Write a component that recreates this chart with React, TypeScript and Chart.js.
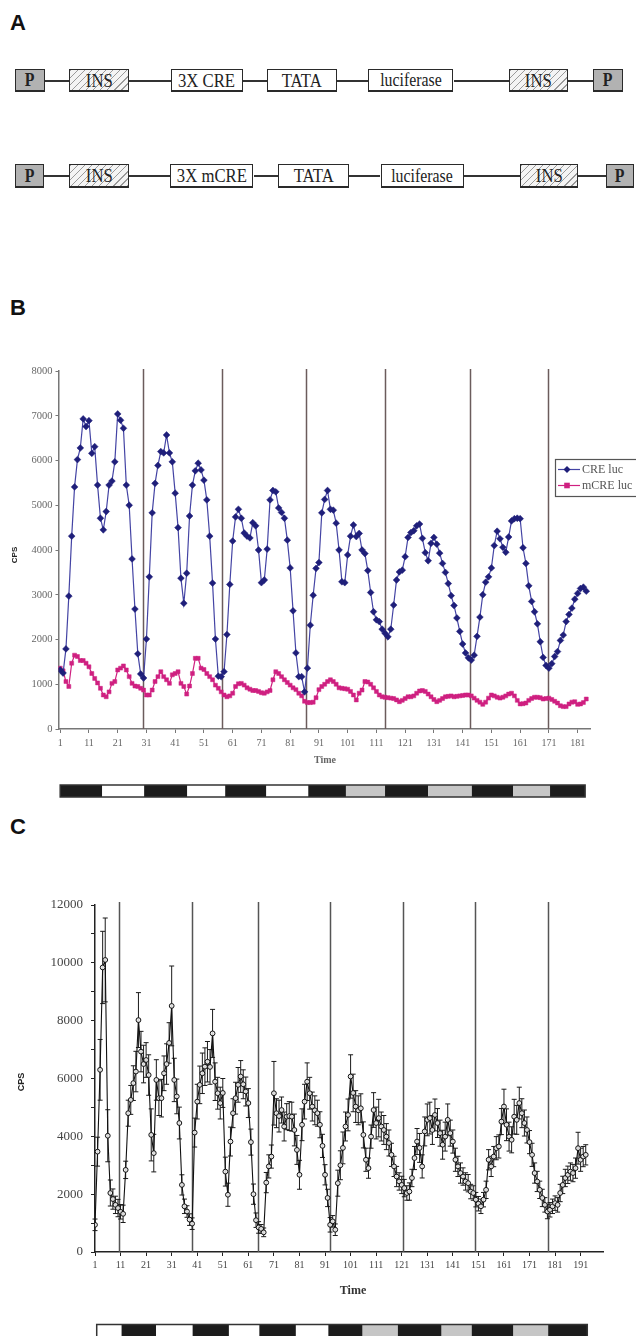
import React, { useEffect, useRef } from 'react';
import { Chart, registerables } from 'chart.js';
Chart.register(...registerables);

// ---------- Panel B data (time index 1..184) ----------
const creLuc = [
  1320, 1250, 1790, 2970, 4310, 5410, 6020, 6280, 6930, 6760,
  6890, 6160, 6310, 5450, 4710, 4450, 4860, 5450, 5540, 5970,
  7040, 6900, 6720, 5450, 5000, 3800, 2680, 1680, 1230, 1140,
  2010, 3400, 4830, 5490, 5890, 6200, 6170, 6570, 6170, 5970,
  5270, 4500, 3370, 2810, 3480, 4760, 5450, 5770, 5940, 5790,
  5560, 5120, 4310, 3260, 2010, 1180, 1170, 1280, 2110, 3230,
  4200, 4740, 4910, 4710, 4380, 4310, 4270, 4610, 4540, 4000,
  3270, 3330, 4020, 5120, 5330, 5300, 4940, 4840, 4710, 4220,
  3600, 2640, 1700, 1170, 1170, 830, 1360, 2320, 2990, 3590,
  3720, 4830, 5130, 5330, 4910, 4890, 4600, 4000, 3290, 3270,
  3890, 4310, 4560, 4300, 4370, 4000, 3920, 3540, 3050, 2620,
  2440, 2400, 2230, 2140, 2060, 2230, 2770, 3330, 3510, 3550,
  3850, 4280, 4390, 4430, 4540, 4580, 4260, 3940, 3760, 4150,
  4280, 4130, 3930, 3700, 3500, 3250, 2980, 2760, 2480, 2180,
  1900, 1700, 1590, 1540, 1650, 2070, 2500, 3000, 3280, 3400,
  3600, 4100, 4420, 4250, 4060, 3950, 4290, 4650, 4700, 4710,
  4700, 4050, 3700, 3200, 2850, 2620, 2350, 1950, 1600, 1420,
  1360, 1460, 1620, 1730, 1980, 2100, 2400, 2560, 2700, 2900,
  3030, 3140, 3170, 3080,
];
const mcreLuc = [
  1360, 1300, 1060, 950, 1470, 1650, 1620, 1530, 1530, 1470,
  1390, 1240, 1130, 1030, 910, 760, 720, 830, 1020, 1060,
  1320, 1360, 1410, 1320, 1170, 1020, 960, 950, 910, 870,
  760, 760, 870, 1060, 1170, 1280, 1170, 1100, 1020, 1210,
  1240, 1280, 1020, 950, 780, 960, 1240, 1580, 1580, 1360,
  1330, 1240, 1170, 1100, 980, 910, 830, 760, 720, 740,
  800, 950, 1010, 1020, 980, 920, 890, 860, 860, 840,
  810, 800, 830, 860, 1100, 1280, 1240, 1170, 1100, 1040,
  980, 920, 880, 800, 740, 620, 590, 590, 600, 700,
  880, 950, 1000, 1060, 1100, 1060, 1000, 920, 910, 900,
  890, 840, 760, 650, 800, 870, 1060, 1050, 1000, 920,
  840, 760, 720, 710, 700, 690, 680, 650, 610, 640,
  680, 720, 720, 740, 800, 850, 860, 840, 780, 720,
  660, 610, 640, 680, 720, 730, 740, 720, 730, 740,
  750, 760, 760, 740, 690, 640, 600, 550, 600, 690,
  760, 740, 710, 690, 710, 740, 780, 800, 740, 640,
  560, 565, 580, 640, 680, 710, 710, 700, 670, 680,
  690, 660, 620, 580, 520, 500, 500, 560, 600, 610,
  550, 560, 590, 670,
];
const xTicksB = [1, 11, 21, 31, 41, 51, 61, 71, 81, 91, 101, 111, 121, 131, 141, 151, 161, 171, 181];
const yTicksB = [0, 1000, 2000, 3000, 4000, 5000, 6000, 7000, 8000];
const dividersB = [29.9, 57.2, 86.6, 114, 143.5, 170.8];
const scheduleBoundsB = [1, 15.6, 30.2, 45.2, 58.4, 72.7, 87.3, 100.4, 114, 129, 144.2, 158.6, 171.4, 183.6];
const schedulePhasesB = ['D', 'L', 'D', 'L', 'D', 'L', 'D', 'G', 'D', 'G', 'D', 'G', 'D'];
const seriesNamesB = ['CRE luc', 'mCRE luc'];

// ---------- Panel C data (time index 1..193) ----------
const cpsMeanC = [
  940, 3470, 6300, 9840, 10100, 4020, 2040, 1830, 1630, 1520,
  1390, 1320, 2840, 4800, 5260, 5840, 6240, 8020, 6930, 6500,
  6640, 6120, 4050, 3420, 5950, 5320, 5320, 6180, 6500, 7230,
  8510, 5950, 5380, 4460, 2320, 1580, 1400, 1120, 980, 4130,
  5200, 5780, 6180, 6410, 6580, 6400, 7560, 5890, 5490, 5150,
  5500, 2780, 1980, 3820, 4800, 5320, 5780, 6070, 5800, 5550,
  5150, 3800, 2000, 1100, 850, 800, 680, 2400, 2960, 3300,
  5490, 4800, 4700, 4910, 4340, 4680, 4700, 4680, 4220, 3530,
  2670, 4400, 5200, 5890, 5490, 5030, 4900, 4800, 4400, 3670,
  2670, 1870, 940, 1060, 770, 2380, 3000, 3600, 4340, 4740,
  6070, 5500, 5030, 4900, 4970, 4050, 3190, 2900, 3990, 4910,
  4460, 4630, 4340, 4220, 3990, 3770, 3360, 2960, 2610, 2440,
  2320, 2210, 2040, 2090, 2560, 3250, 3820, 3600, 2960, 4170,
  4570, 4630, 4220, 4740, 4460, 4110, 3710, 3990, 4570, 4110,
  3820, 3190, 2960, 2730, 2610, 2440, 2380, 2090, 2040, 1810,
  1670, 1580, 1810, 2150, 3190, 2960, 3300, 3590, 3650, 4510,
  5030, 4400, 3990, 3880, 4680, 4570, 5150, 4800, 4460, 4220,
  3800, 3360, 2730, 2440, 2150, 1870, 1630, 1400, 1460, 1580,
  1690, 1630, 2040, 2320, 2560, 2670, 2780, 2730, 2900, 3590,
  3190, 3300, 3360,
];
const cpsErrC = [
  200, 500, 1050, 1250, 1450, 900, 450, 350, 300, 300,
  250, 300, 300, 450, 500, 600, 700, 950, 700, 650,
  600, 700, 900, 650, 700, 600, 650, 600, 700, 700,
  1380, 750, 600, 550, 350, 250, 200, 200, 200, 500,
  600, 650, 700, 650, 700, 600, 830, 650, 550, 550,
  500, 500, 400, 500, 500, 550, 600, 550, 500, 500,
  500, 450, 350, 250, 200, 150, 150, 350, 400, 400,
  1100, 500, 550, 450, 500, 450, 500, 500, 550, 500,
  500, 550, 600, 650, 550, 500, 500, 450, 450, 400,
  350, 300, 250, 200, 200, 450, 500, 550, 500, 550,
  750, 650, 550, 500, 500, 450, 400, 350, 400, 600,
  550, 650, 500, 500, 450, 450, 400, 350, 350, 300,
  300, 300, 250, 300, 300, 400, 450, 500, 400, 500,
  550, 550, 500, 550, 500, 450, 500, 500, 550, 450,
  400, 400, 350, 350, 300, 300, 300, 250, 250, 250,
  250, 250, 250, 300, 350, 350, 350, 400, 400, 450,
  600, 550, 500, 450, 600, 500, 550, 500, 450, 450,
  400, 400, 350, 350, 300, 300, 250, 250, 250, 250,
  250, 250, 300, 300, 300, 300, 300, 300, 350, 550,
  400, 350, 350,
];
const xTicksC = [1, 11, 21, 31, 41, 51, 61, 71, 81, 91, 101, 111, 121, 131, 141, 151, 161, 171, 181, 191];
const yTicksC = [0, 1000, 2000, 3000, 4000, 5000, 6000, 7000, 8000, 9000, 10000, 11000, 12000];
const yLabelStepC = 2000;
const dividersC = [10.4, 38.8, 64.9, 92.9, 121.4, 149.7, 178.1];
const scheduleBoundsC = [1.67, 11.4, 24.9, 39.2, 53.4, 65.3, 79.6, 92.3, 105.7, 119.5, 136.6, 148.4, 164.7, 178.3, 193.6];
const schedulePhasesC = ['L', 'D', 'L', 'D', 'L', 'D', 'L', 'D', 'G', 'D', 'G', 'D', 'G', 'D'];

// ---------- Panel A construct labels ----------
const constructTop = ['P', 'INS', '3X CRE', 'TATA', 'luciferase', 'INS', 'P'];
const constructBottom = ['P', 'INS', '3X mCRE', 'TATA', 'luciferase', 'INS', 'P'];

const BLUE_MARK = '#1f1f7a';
const BLUE_LINE = '#4444a4';
const PINK = '#cf2080';
const phaseColor: Record<string, string> = { D: '#1c1c1c', L: '#ffffff', G: '#c6c6c6' };
const SERIF = '"Liberation Serif", "DejaVu Serif", serif';
const SANS = '"Liberation Sans", Arial, sans-serif';

function drawSchedule(chart: any, bounds: number[], phases: string[], y0: number, h: number) {
  const { ctx, scales } = chart;
  const x = scales.x;
  ctx.save();
  for (let i = 0; i < phases.length; i++) {
    const a = x.getPixelForValue(bounds[i]);
    const b = x.getPixelForValue(bounds[i + 1]);
    ctx.fillStyle = phaseColor[phases[i]];
    ctx.fillRect(a, y0, b - a, h);
  }
  const first = x.getPixelForValue(bounds[0]);
  const last = x.getPixelForValue(bounds[bounds.length - 1]);
  ctx.strokeStyle = '#333';
  ctx.lineWidth = 1.5;
  ctx.strokeRect(first, y0, last - first, h);
  ctx.restore();
}

function drawDividers(chart: any, values: number[], color: string, topExtra: number) {
  const { ctx, chartArea, scales } = chart;
  ctx.save();
  ctx.strokeStyle = color;
  ctx.lineWidth = 1.5;
  values.forEach((d) => {
    const px = Math.round(scales.x.getPixelForValue(d)) + 0.5;
    ctx.beginPath();
    ctx.moveTo(px, chartArea.top - topExtra);
    ctx.lineTo(px, chartArea.bottom);
    ctx.stroke();
  });
  ctx.restore();
}

const decorB = {
  id: 'decorB',
  beforeDatasetsDraw(chart: any) {
    drawDividers(chart, dividersB, '#6b5c5c', 2);
  },
  afterDraw(chart: any) {
    const { ctx } = chart;
    ctx.save();
    // y title
    ctx.translate(15, 225);
    ctx.rotate(-Math.PI / 2);
    ctx.fillStyle = '#222';
    ctx.font = `bold 8px ${SANS}`;
    ctx.textAlign = 'center';
    ctx.textBaseline = 'middle';
    ctx.fillText('CPS', 0, 0);
    ctx.restore();
    // x title
    ctx.save();
    ctx.fillStyle = '#666';
    ctx.font = `bold 10px ${SERIF}`;
    ctx.textAlign = 'center';
    ctx.textBaseline = 'middle';
    ctx.fillText('Time', 325, 430);
    ctx.restore();
    // legend
    ctx.save();
    ctx.fillStyle = '#fff';
    ctx.fillRect(555.5, 129.5, 90, 37);
    ctx.strokeStyle = '#555';
    ctx.lineWidth = 1.2;
    ctx.strokeRect(555.5, 129.5, 90, 37);
    const rows = [
      { y: 139.5, line: BLUE_LINE, mark: BLUE_MARK, style: 'rectRot', r: 3.5 },
      { y: 155.5, line: PINK, mark: PINK, style: 'rect', r: 2.8 },
    ];
    rows.forEach((row, i) => {
      ctx.strokeStyle = row.line;
      ctx.lineWidth = 1.2;
      ctx.beginPath();
      ctx.moveTo(558, row.y);
      ctx.lineTo(580, row.y);
      ctx.stroke();
      ctx.fillStyle = row.mark;
      ctx.beginPath();
      if (row.style === 'rectRot') {
        ctx.moveTo(567, row.y - row.r);
        ctx.lineTo(567 + row.r, row.y);
        ctx.lineTo(567, row.y + row.r);
        ctx.lineTo(567 - row.r, row.y);
        ctx.closePath();
      } else {
        ctx.rect(567 - row.r, row.y - row.r, row.r * 2, row.r * 2);
      }
      ctx.fill();
      ctx.fillStyle = '#555';
      ctx.font = `12px ${SERIF}`;
      ctx.textAlign = 'left';
      ctx.textBaseline = 'middle';
      ctx.fillText(seriesNamesB[i], 582, row.y + 0.5);
    });
    ctx.restore();
    drawSchedule(chart, scheduleBoundsB, schedulePhasesB, 455, 12);
  },
};

const decorC = {
  id: 'decorC',
  beforeDatasetsDraw(chart: any) {
    drawDividers(chart, dividersC, '#555', 3);
    const { ctx, scales } = chart;
    const x = scales.x;
    const y = scales.y;
    ctx.save();
    ctx.strokeStyle = '#1a1a1a';
    ctx.lineWidth = 1;
    cpsMeanC.forEach((v, i) => {
      const e = cpsErrC[i];
      const px = x.getPixelForValue(i + 1);
      const top = y.getPixelForValue(v + e);
      const bot = y.getPixelForValue(Math.max(0, v - e));
      ctx.beginPath();
      ctx.moveTo(px, top);
      ctx.lineTo(px, bot);
      ctx.moveTo(px - 2.5, top);
      ctx.lineTo(px + 2.5, top);
      ctx.moveTo(px - 2.5, bot);
      ctx.lineTo(px + 2.5, bot);
      ctx.stroke();
    });
    ctx.restore();
  },
  afterDraw(chart: any) {
    const { ctx } = chart;
    ctx.save();
    ctx.translate(22, 202);
    ctx.rotate(-Math.PI / 2);
    ctx.fillStyle = '#222';
    ctx.font = `bold 9px ${SANS}`;
    ctx.textAlign = 'center';
    ctx.textBaseline = 'middle';
    ctx.fillText('CPS', 0, 0);
    ctx.restore();
    ctx.save();
    ctx.fillStyle = '#333';
    ctx.font = `bold 12px ${SERIF}`;
    ctx.textAlign = 'center';
    ctx.textBaseline = 'middle';
    ctx.fillText('Time', 353, 411);
    ctx.restore();
    drawSchedule(chart, scheduleBoundsC, schedulePhasesC, 444.5, 14);
  },
};

function makeConfigB(): any {
  return {
    type: 'line',
    data: {
      datasets: [
        {
          label: seriesNamesB[0],
          data: creLuc.map((v, i) => ({ x: i + 1, y: v })),
          borderColor: BLUE_LINE,
          borderWidth: 1.2,
          pointStyle: 'rectRot',
          pointRadius: 3.4,
          pointBackgroundColor: BLUE_MARK,
          pointBorderColor: BLUE_MARK,
          pointBorderWidth: 0.5,
          tension: 0,
        },
        {
          label: seriesNamesB[1],
          data: mcreLuc.map((v, i) => ({ x: i + 1, y: v })),
          borderColor: PINK,
          borderWidth: 1.2,
          pointStyle: 'rect',
          pointRadius: 2.8,
          pointBackgroundColor: PINK,
          pointBorderColor: PINK,
          pointBorderWidth: 0.5,
          tension: 0,
        },
      ],
    },
    options: {
      animation: false,
      responsive: false,
      devicePixelRatio: 1,
      layout: { padding: { top: 41, right: 46, left: 0, bottom: 0 } },
      plugins: { legend: { display: false }, tooltip: { enabled: false } },
      scales: {
        x: {
          type: 'linear',
          min: 0.41,
          max: 185.3,
          afterBuildTicks: (s: any) => { s.ticks = xTicksB.map((v) => ({ value: v })); },
          afterFit: (s: any) => { s.height = 71; },
          grid: { display: true, drawOnChartArea: false, drawTicks: true, tickLength: 4, color: '#777', lineWidth: 1 },
          border: { display: true, color: '#777', width: 1.5 },
          ticks: { color: '#666', font: { family: SERIF, size: 10 }, padding: 4, maxRotation: 0, autoSkip: false, callback: (v: any) => String(v) },
        },
        y: {
          type: 'linear',
          min: 0,
          max: 8000,
          afterBuildTicks: (s: any) => { s.ticks = yTicksB.map((v) => ({ value: v })); },
          afterFit: (s: any) => { s.width = 58.5; },
          grid: { display: true, drawOnChartArea: false, drawTicks: true, tickLength: 3, color: '#777', lineWidth: 1 },
          border: { display: true, color: '#777', width: 1.5 },
          ticks: { color: '#666', font: { family: SERIF, size: 10.5 }, padding: 3, callback: (v: any) => String(v) },
        },
      },
    },
    plugins: [decorB],
  };
}

function makeConfigC(): any {
  return {
    type: 'line',
    data: {
      datasets: [
        {
          label: 'CPS',
          data: cpsMeanC.map((v, i) => ({ x: i + 1, y: v })),
          borderColor: '#111',
          borderWidth: 1.1,
          pointStyle: 'circle',
          pointRadius: 2.4,
          pointBackgroundColor: 'rgba(235,235,235,0.9)',
          pointBorderColor: '#111',
          pointBorderWidth: 1,
          tension: 0,
        },
      ],
    },
    options: {
      animation: false,
      responsive: false,
      devicePixelRatio: 1,
      layout: { padding: { top: 25, right: 33, left: 0, bottom: 0 } },
      plugins: { legend: { display: false }, tooltip: { enabled: false } },
      scales: {
        x: {
          type: 'linear',
          min: 1,
          max: 199.75,
          afterBuildTicks: (s: any) => { s.ticks = xTicksC.map((v) => ({ value: v })); },
          afterFit: (s: any) => { s.height = 84; },
          grid: { display: true, drawOnChartArea: false, drawTicks: true, tickLength: 4, color: '#222', lineWidth: 1 },
          border: { display: true, color: '#222', width: 1.5 },
          ticks: { color: '#444', font: { family: SERIF, size: 10 }, padding: 3, maxRotation: 0, autoSkip: false, callback: (v: any) => String(v) },
        },
        y: {
          type: 'linear',
          min: 0,
          max: 12000,
          afterBuildTicks: (s: any) => { s.ticks = yTicksC.map((v) => ({ value: v })); },
          afterFit: (s: any) => { s.width = 95; },
          grid: { display: true, drawOnChartArea: false, drawTicks: true, tickLength: 4, color: '#222', lineWidth: 1 },
          border: { display: true, color: '#222', width: 1.5 },
          ticks: {
            color: '#444',
            font: { family: SERIF, size: 13 },
            padding: 8,
            autoSkip: false,
            callback: (v: any) => (v % yLabelStepC === 0 ? String(v) : ''),
          },
        },
      },
    },
    plugins: [decorC],
  };
}

// ---------- Panel A diagram ----------
type Seg = { l: number; r: number };
const boxTextStyle = (size: number): React.CSSProperties => ({
  display: 'inline-block',
  transform: 'scaleX(0.88)',
  fontFamily: SERIF,
  fontSize: size,
  lineHeight: 1,
  color: '#222',
  whiteSpace: 'nowrap',
});

function ConstructRow({ labels, boxes, top, height }: { labels: string[]; boxes: Seg[]; top: number; height: number }) {
  const mid = top + height / 2;
  const items: React.ReactNode[] = [];
  for (let i = 0; i < boxes.length - 1; i++) {
    items.push(
      <div key={'c' + i} style={{ position: 'absolute', left: boxes[i].r, top: mid - 1, width: boxes[i + 1].l - boxes[i].r, height: 2, background: '#333' }} />
    );
  }
  boxes.forEach((b, i) => {
    const label = labels[i];
    const isP = label === 'P';
    const isIns = label === 'INS';
    const bg = isP
      ? '#b2b2b2'
      : isIns
      ? 'repeating-linear-gradient(135deg, #9a9a9a 0px, #9a9a9a 1px, #f4f4f4 1px, #f4f4f4 5px)'
      : '#fff';
    items.push(
      <div
        key={'b' + i}
        style={{
          position: 'absolute',
          left: b.l,
          top,
          width: b.r - b.l,
          height,
          boxSizing: 'border-box',
          border: '1.5px solid #2a2a2a',
          borderBottomWidth: 2.5,
          background: bg,
          display: 'flex',
          alignItems: 'center',
          justifyContent: 'center',
          overflow: 'hidden',
        }}
      >
        <span style={{ ...boxTextStyle(isP ? 18 : label === 'luciferase' ? 18 : 19), fontWeight: isP ? 'bold' : 'normal' }}>{label}</span>
      </div>
    );
  });
  return <>{items}</>;
}

const rowTopBoxes: Seg[] = [
  { l: 15, r: 44.6 }, { l: 69, r: 129 }, { l: 171, r: 242.6 }, { l: 267, r: 336.7 },
  { l: 368.3, r: 453.5 }, { l: 509, r: 568 }, { l: 593, r: 622.6 },
];
const rowBottomBoxes: Seg[] = [
  { l: 15, r: 43.8 }, { l: 69, r: 129 }, { l: 170.4, r: 253.5 }, { l: 277.8, r: 348.8 },
  { l: 380.5, r: 464.4 }, { l: 520.4, r: 578 }, { l: 605.6, r: 633.6 },
];

const panelLabel = (text: string, left: number, top: number) => (
  <div style={{ position: 'absolute', left, top, fontFamily: SANS, fontWeight: 'bold', fontSize: 22, lineHeight: '22px', color: '#111' }}>{text}</div>
);

export default function App() {
  const refB = useRef<HTMLCanvasElement>(null);
  const refC = useRef<HTMLCanvasElement>(null);
  useEffect(() => {
    const chB = new Chart(refB.current as HTMLCanvasElement, makeConfigB());
    const chC = new Chart(refC.current as HTMLCanvasElement, makeConfigC());
    return () => {
      chB.destroy();
      chC.destroy();
    };
  }, []);
  return (
    <div style={{ position: 'absolute', left: 0, top: 0, width: 636, height: 1336, background: '#fff', overflow: 'hidden' }}>
      {panelLabel('A', 10, 12)}
      <ConstructRow labels={constructTop} boxes={rowTopBoxes} top={69} height={23} />
      <ConstructRow labels={constructBottom} boxes={rowBottomBoxes} top={164} height={24} />
      {panelLabel('B', 10, 297)}
      <canvas ref={refB} width={636} height={470} style={{ position: 'absolute', left: 0, top: 330, width: 636, height: 470 }} />
      {panelLabel('C', 10, 816)}
      <canvas ref={refC} width={636} height={456} style={{ position: 'absolute', left: 0, top: 880, width: 636, height: 456 }} />
    </div>
  );
}
